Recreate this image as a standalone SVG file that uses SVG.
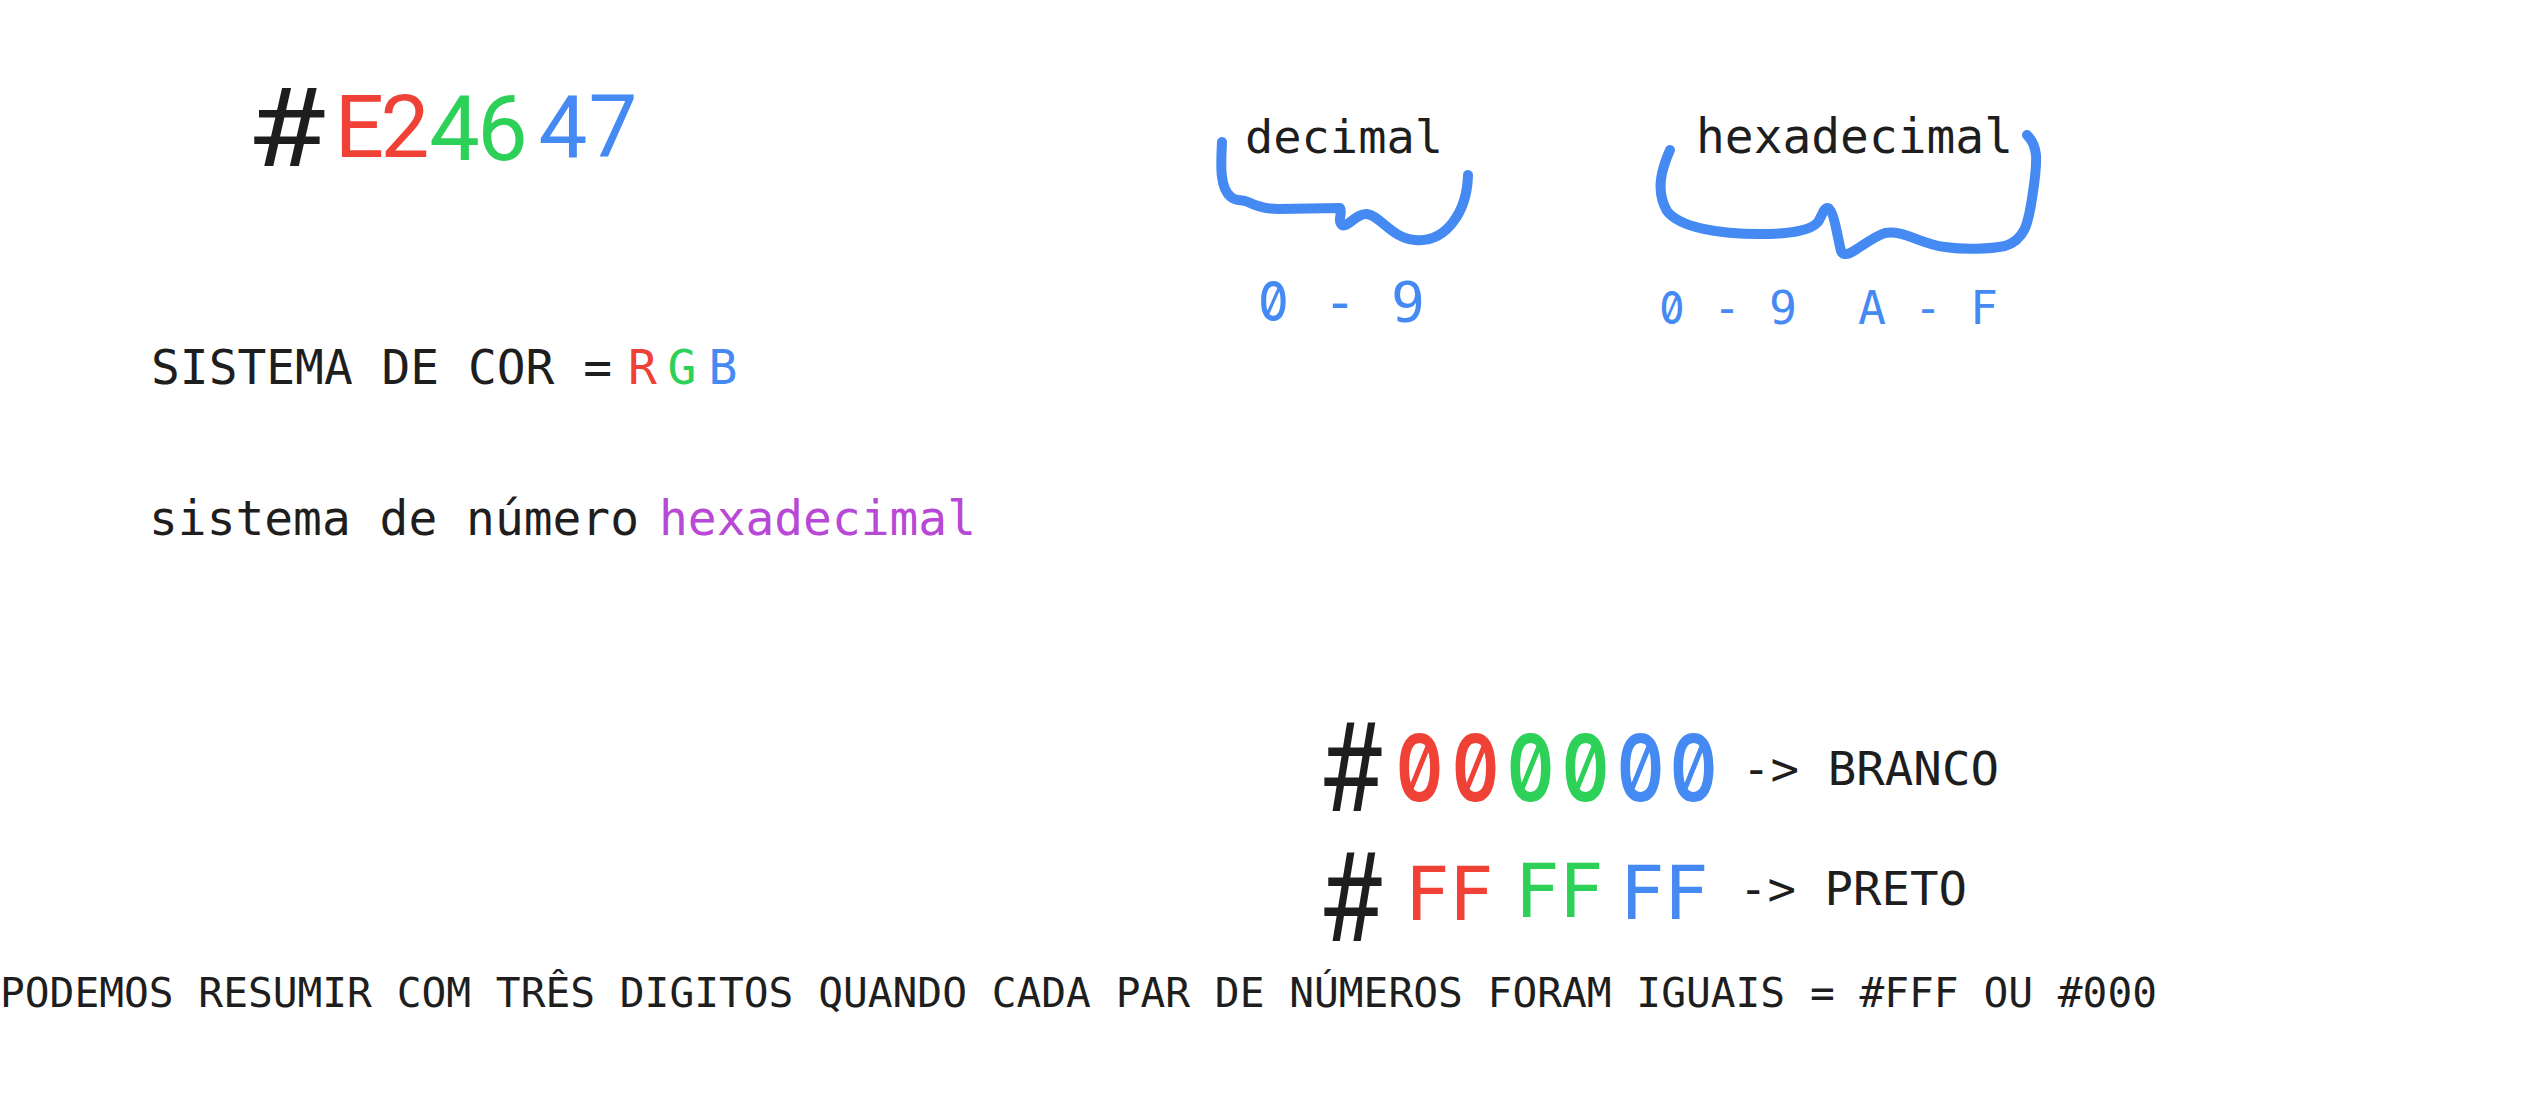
<svg xmlns="http://www.w3.org/2000/svg" width="2532" height="1118" viewBox="0 0 2532 1118">
  <style>
    .mono { font-family: "DejaVu Sans Mono", "Liberation Mono", monospace; }
    .sans { font-family: Roboto, "Liberation Sans", sans-serif; }
    .zero { font-family: Inter, "DejaVu Sans Mono", monospace; font-feature-settings: "zero" 1, "tnum" 1; }
    .k { fill: #1e1e1e; }
    .r { fill: #ef4136; }
    .g { fill: #2ed158; }
    .b { fill: #4589f3; }
    .p { fill: #b848d6; }
    .brace { fill: none; stroke: #4589f3; stroke-width: 10; stroke-linecap: round; stroke-linejoin: round; }
  </style>
  <rect width="2532" height="1118" fill="#ffffff"/>

  <g id="hex-color-title">
    <text class="sans k" font-size="110" text-anchor="middle" transform="translate(286.5,166) scale(1.17,1)">#</text>
    <text class="sans r" font-size="87" text-anchor="middle" x="359.5" y="157">E</text>
    <text class="sans r" font-size="87" text-anchor="middle" x="405" y="157">2</text>
    <text class="sans g" font-size="90" text-anchor="middle" x="454.5" y="160">4</text>
    <text class="sans g" font-size="90" text-anchor="middle" x="502.5" y="160">6</text>
    <text class="sans b" font-size="87" text-anchor="middle" x="563" y="157">4</text>
    <text class="sans b" font-size="87" text-anchor="middle" x="613" y="157">7</text>
  </g>

  <g id="color-system">
    <text class="mono k" font-size="48" x="151" y="384" textLength="461" lengthAdjust="spacingAndGlyphs">SISTEMA DE COR =</text>
    <text class="mono r" font-size="48" text-anchor="middle" x="642.5" y="384">R</text>
    <text class="mono g" font-size="48" text-anchor="middle" x="682" y="384">G</text>
    <text class="mono b" font-size="48" text-anchor="middle" x="723" y="384">B</text>
  </g>

  <g id="number-system">
    <text class="mono k" font-size="48" x="149" y="535" textLength="490" lengthAdjust="spacingAndGlyphs">sistema de número</text>
    <text class="mono p" font-size="48" x="659" y="535" textLength="317" lengthAdjust="spacingAndGlyphs">hexadecimal</text>
  </g>

  <g id="decimal">
    <text class="mono k" font-size="47" x="1245" y="153" textLength="198" lengthAdjust="spacingAndGlyphs">decimal</text>
    <text class="zero b" font-size="55" font-weight="500" text-anchor="middle" transform="translate(1273.5,321) scale(0.85,1)">0</text>
    <text class="mono b" font-size="56" x="1323" y="321" textLength="102" lengthAdjust="spacingAndGlyphs">- 9</text>
  </g>

  <g id="hexadecimal">
    <text class="mono k" font-size="48" x="1696" y="153" textLength="317" lengthAdjust="spacingAndGlyphs">hexadecimal</text>
    <text class="zero b" font-size="45" font-weight="500" text-anchor="middle" transform="translate(1672,324) scale(0.85,1)">0</text>
    <text class="mono b" font-size="46" x="1713" y="324" textLength="84" lengthAdjust="spacingAndGlyphs">- 9</text>
    <text class="mono b" font-size="46" x="1858" y="324" textLength="140" lengthAdjust="spacingAndGlyphs">A - F</text>
  </g>

  <g id="connectors">
    <path class="brace" d="M1222,142 C1221,162 1219,188 1231,197 C1237,202 1241,199 1248,202 C1256,206 1266,209 1278,209 L1340,208 C1343,212 1337,221 1342,225 C1348,228 1356,213 1367,214 C1381,216 1391,238 1415,240 C1446,243 1467,212 1468,175"/>
    <path class="brace" d="M1670,150 C1662,168 1655,190 1667,211 C1680,228 1720,234 1760,234 C1790,234 1810,231 1818,222 C1822,216 1824,207 1828,208 C1834,210 1838,240 1841,251 C1843,256 1848,254 1852,252 C1862,246 1875,236 1885,233 C1905,230 1920,244 1945,247 C1965,250 1990,249 2005,246 C2025,240 2028,222 2031,205 C2034,185 2037,170 2036,155 C2035,145 2031,139 2027,135"/>
  </g>

  <g id="white-example">
    <text class="sans k" font-size="125" text-anchor="middle" transform="translate(1350.5,811) scale(0.84,1)">#</text>
    <text class="zero" font-size="92" font-weight="600" text-anchor="middle" transform="translate(0,801) scale(0.8,1)"><tspan class="r" x="1774.4">0</tspan><tspan class="r" x="1844.4">0</tspan><tspan class="g" x="1913.1">0</tspan><tspan class="g" x="1981.9">0</tspan><tspan class="b" x="2050.6">0</tspan><tspan class="b" x="2116.9">0</tspan></text>
    <text class="mono k" font-size="47" x="1742" y="785" textLength="257" lengthAdjust="spacingAndGlyphs">-&gt; BRANCO</text>
  </g>

  <g id="black-example">
    <text class="sans k" font-size="125" text-anchor="middle" transform="translate(1350.5,941) scale(0.84,1)">#</text>
    <text class="mono r" font-size="75" text-anchor="middle" y="920"><tspan x="1427">F</tspan><tspan x="1471">F</tspan></text>
    <text class="mono g" font-size="75" text-anchor="middle" y="917"><tspan x="1537">F</tspan><tspan x="1581">F</tspan></text>
    <text class="mono b" font-size="75" text-anchor="middle" y="919"><tspan x="1642">F</tspan><tspan x="1686">F</tspan></text>
    <text class="mono k" font-size="47" x="1739" y="905" textLength="228" lengthAdjust="spacingAndGlyphs">-&gt; PRETO</text>
  </g>

  <g id="summary">
    <text class="mono k" font-size="41" x="0" y="1007" textLength="2157" lengthAdjust="spacingAndGlyphs">PODEMOS RESUMIR COM TRÊS DIGITOS QUANDO CADA PAR DE NÚMEROS FORAM IGUAIS = #FFF OU #000</text>
  </g>
</svg>
